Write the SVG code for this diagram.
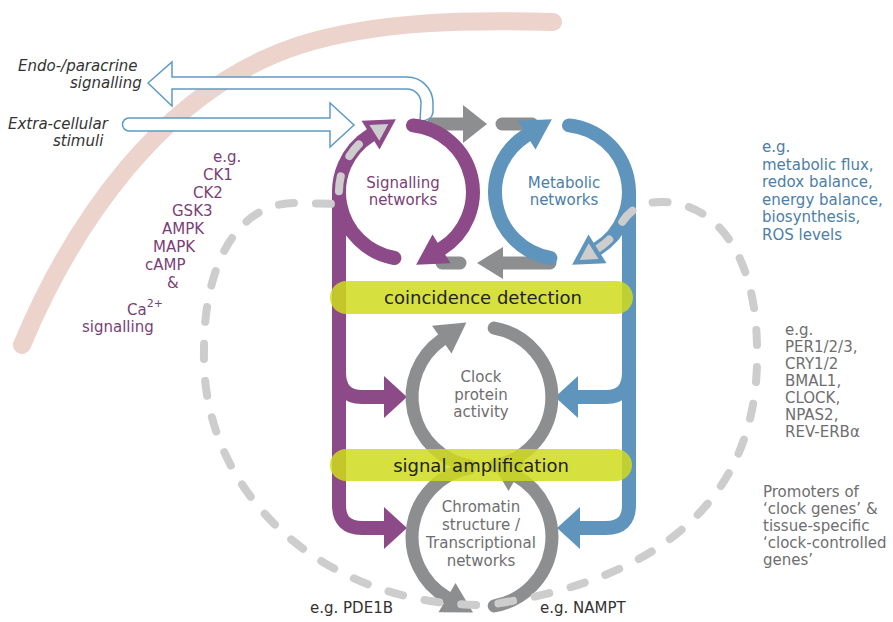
<svg xmlns="http://www.w3.org/2000/svg" width="893" height="622" viewBox="0 0 893 622">
<style>
text{font-family:"DejaVu Sans","Verdana",sans-serif;font-size:15px}
.it{font-style:italic;fill:#333}
.pt{fill:#7a3f76}
.bt{fill:#4b7ea8}
.gt{fill:#6e6e70}
.dk{fill:#333}
.bar{fill:#cfdb1c;fill-opacity:0.85}
.bartxt{font-size:18px;fill:#222;text-anchor:middle}
.mid{text-anchor:middle}
.pu{stroke:#8c4b88;stroke-width:14;fill:none;stroke-linecap:round}
.pua{fill:#8c4b88}
.bl{stroke:#5f95bd;stroke-width:14;fill:none;stroke-linecap:round}
.bla{fill:#5f95bd}
.gr{stroke:#8d8e90;stroke-width:13;fill:none;stroke-linecap:round}
.gra{fill:#8d8e90}
.hollow{fill:#fff;stroke:#5e9bc4;stroke-width:1.5}
.dash{fill:none;stroke:#cdcdcd;stroke-width:8;stroke-linecap:round;stroke-dasharray:15 22}
.lg{fill:#cdcdcd}
</style>
<rect width="893" height="622" fill="#fff"/>
<path id="membrane" d="M 22 345 C 70 230 160 90 300 45 C 380 20 470 20 553 22" fill="none" stroke="#ecd3cc" stroke-width="18" stroke-linecap="round"/>

<g id="connectors">
  <path class="gr" d="M 433 124 H 463" stroke-linecap="butt"/>
  <polygon class="gra" points="463,105 487,124 463,143"/>
  <path class="gr" d="M 502 124 H 532"/>
  <path class="gr" d="M 442 263 H 460"/>
  <polygon class="gra" points="503,247 477,263 503,279"/>
  <path class="gr" d="M 503 263 H 550" stroke-linecap="butt"/>
  <path class="pu" d="M 339 192 V 505 Q 339 528 362 528 H 386" stroke-linecap="butt"/>
  <polygon class="pua" points="384,507 407,528 384,549"/>
  <path class="pu" d="M 339 372 Q 339 397 362 397 H 386" stroke-linecap="butt"/>
  <polygon class="pua" points="384,376 407,397 384,418"/>
  <path class="bl" d="M 629 192 V 505 Q 629 528 606 528 H 578" stroke-linecap="butt"/>
  <polygon class="bla" points="580,507 557,528 580,549"/>
  <path class="bl" d="M 629 372 Q 629 397 606 397 H 576" stroke-linecap="butt"/>
  <polygon class="bla" points="578,376 555,397 578,418"/>
  <path class="hollow" d="M 148 83 L 172 62 L 172 77 L 407 77 A 26 26 0 0 1 433 103 L 433 112 Q 432 121 420 121 L 421 103 A 14 14 0 0 0 407 89 L 172 89 L 172 106 Z"/>
  <path class="hollow" d="M 129 118 L 330 118 L 330 103 L 354 125 L 330 147 L 330 131 L 129 131 A 6.5 6.5 0 0 1 129 118 Z"/>
</g>

<g id="signalling">
  <path class="pu" d="M 413 125.4 A 67 67 0 0 1 441.5 248.8"/>
  <polygon class="pua" points="416.1,264.7 450.5,263.2 432.5,234.4"/>
  <path class="pu" d="M 394.4 258 A 67 67 0 0 1 370.5 135.2"/>
  <text class="pt mid" x="403" y="188">Signalling</text>
  <text class="pt mid" x="403" y="205">networks</text>
</g>

<g id="metabolic">
  <path class="bl" d="M 569 125.4 A 67 67 0 0 1 597.5 248.8"/>
  <path class="bl" d="M 550.4 258 A 67 67 0 0 1 526.5 135.2"/>
  <polygon class="bla" points="551.9,119.3 517.5,120.8 535.5,149.6"/>
  <text class="bt mid" x="564" y="188">Metabolic</text>
  <text class="bt mid" x="564" y="205">networks</text>
</g>

<g id="clock">
  <path class="gr" d="M 494.2 328.1 A 70 70 0 0 1 494.2 465.9"/>
  <path class="gr" d="M 469.8 465.9 A 70 70 0 0 1 441.8 339.7"/>
  <polygon class="gra" points="466.4,322.5 432,325.8 451.5,353.6"/>
  <text class="gt mid" x="481" y="382">Clock</text>
  <text class="gt mid" x="481" y="400">protein</text>
  <text class="gt mid" x="481" y="417">activity</text>
</g>

<g id="chromatin">
  <path class="gr" d="M 469.8 468.1 A 70 70 0 0 0 447 597.6"/>
  <polygon class="gra" points="473,612.6 438.5,612.3 455.5,582.9"/>
  <path class="gr" d="M 494.2 605.9 A 70 70 0 0 0 517 476.4"/>
  <polygon class="gra" points="491,461.4 525.5,461.7 508.5,491.1"/>
  <text class="gt mid" x="481" y="512">Chromatin</text>
  <text class="gt mid" x="481" y="530">structure /</text>
  <text class="gt mid" x="481" y="548">Transcriptional</text>
  <text class="gt mid" x="481" y="566">networks</text>
</g>

<g id="feedback-loop">
  <path class="dash" d="M 597.5 248.8 A 67 67 0 0 0 620 225.5 C 630 208 645 201 665 202 C 720 205 757 260 757 350 C 760 490 670 580 487 605 C 320 607 200 490 204 350 C 204 260 240 203 295 203 L 340 204 A 67 67 0 0 1 370.5 135.2"/>
  <polygon class="pua" points="395.9,119.3 361.5,120.8 379.5,149.6"/>
  <polygon class="lg" points="388.3,124.1 369.4,124.9 379.3,140.7"/>
  <polygon class="bla" points="572.1,264.7 606.5,263.2 588.5,234.4"/>
  <polygon class="lg" points="579.7,259.9 598.6,259.1 588.7,243.3"/>
</g>

<g id="coincidence">
  <rect class="bar" x="330" y="281" width="303" height="33" rx="16.5"/>
  <text class="bartxt" x="483" y="304">coincidence detection</text>
</g>
<g id="amplification">
  <rect class="bar" x="330" y="449" width="302" height="32" rx="16"/>
  <text class="bartxt" x="481" y="472">signal amplification</text>
</g>

<g id="labels">
  <text class="it" x="18" y="71">Endo-/paracrine</text>
  <text class="it" x="70" y="88">signalling</text>
  <text class="it" x="8" y="129">Extra-cellular</text>
  <text class="it" x="53" y="146">stimuli</text>

  <text class="pt" x="213" y="162">e.g.</text>
  <text class="pt" x="203" y="180">CK1</text>
  <text class="pt" x="193" y="198">CK2</text>
  <text class="pt" x="172" y="216">GSK3</text>
  <text class="pt" x="162" y="234">AMPK</text>
  <text class="pt" x="153" y="252">MAPK</text>
  <text class="pt" x="145" y="270">cAMP</text>
  <text class="pt" x="167" y="288">&amp;</text>
  <text class="pt" x="127" y="315">Ca<tspan font-size="11" dy="-8">2+</tspan></text>
  <text class="pt" x="82" y="332">signalling</text>

  <text class="bt" x="762" y="152">e.g.</text>
  <text class="bt" x="762" y="169.5">metabolic flux,</text>
  <text class="bt" x="762" y="187">redox balance,</text>
  <text class="bt" x="762" y="204.5">energy balance,</text>
  <text class="bt" x="762" y="222">biosynthesis,</text>
  <text class="bt" x="762" y="239.5">ROS levels</text>

  <text class="gt" x="785" y="335">e.g.</text>
  <text class="gt" x="785" y="352">PER1/2/3,</text>
  <text class="gt" x="785" y="369">CRY1/2</text>
  <text class="gt" x="785" y="386">BMAL1,</text>
  <text class="gt" x="785" y="403">CLOCK,</text>
  <text class="gt" x="785" y="420">NPAS2,</text>
  <text class="gt" x="785" y="437">REV-ERBα</text>

  <text class="gt" x="763" y="497">Promoters of</text>
  <text class="gt" x="763" y="514">‘clock genes’ &amp;</text>
  <text class="gt" x="763" y="531">tissue-specific</text>
  <text class="gt" x="763" y="548">‘clock-controlled</text>
  <text class="gt" x="763" y="565">genes’</text>

  <text class="dk" x="310" y="613">e.g. PDE1B</text>
  <text class="dk" x="540" y="613">e.g. NAMPT</text>
</g>
</svg>
